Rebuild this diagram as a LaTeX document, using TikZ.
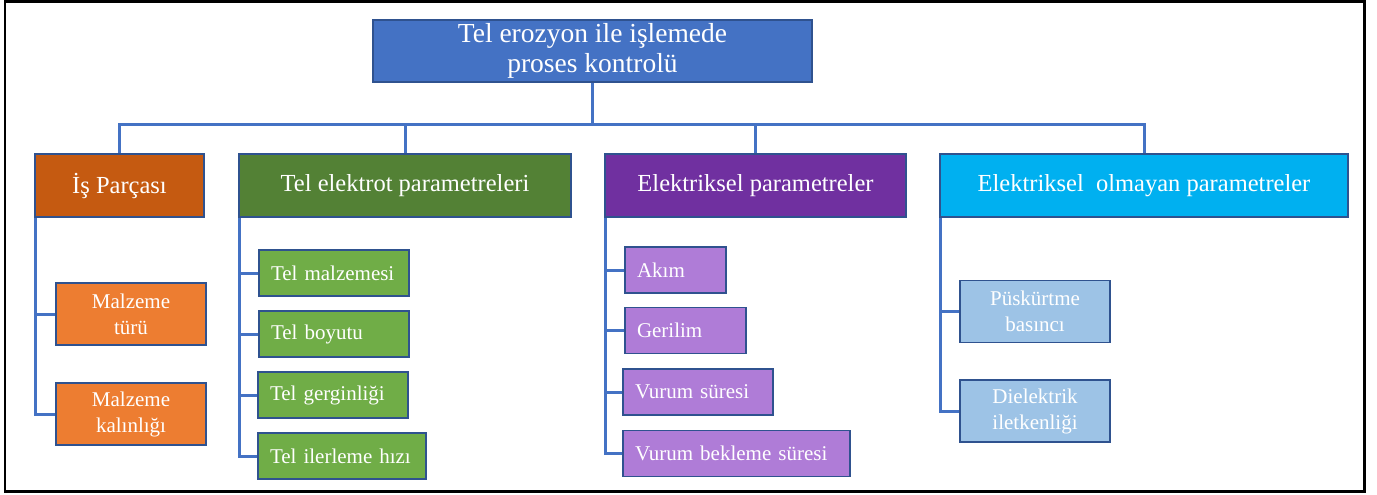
\documentclass[tikz,border=0pt]{standalone}
\usepackage{fontspec}
\setmainfont{Liberation Serif}
\usepackage{tikz}
\usetikzlibrary{backgrounds}

\definecolor{linkblue}{HTML}{4472C4}
\definecolor{rimblue}{HTML}{2F528F}
\definecolor{rust}{HTML}{C55A11}
\definecolor{darkgreen}{HTML}{538135}
\definecolor{mor}{HTML}{7030A0}
\definecolor{skyblue}{HTML}{00B0F0}
\definecolor{orangeleaf}{HTML}{ED7D31}
\definecolor{greenleaf}{HTML}{70AD47}
\definecolor{lilac}{HTML}{AF7CD7}
\definecolor{paleblue}{HTML}{9DC3E6}

\tikzset{
	rootbox/.style={minimum width=439pt,minimum height=62pt,font=\fontsize{27.5}{30}\selectfont},
	groupbox/.style={minimum height=63pt,font=\fontsize{24.5}{28}\selectfont},
	leafbox/.style={minimum width=150pt,minimum height=62pt,font=\fontsize{21}{26}\selectfont},
	listbox/.style={minimum height=46pt,inner xsep=12pt,align=left,font=\fontsize{21}{26}\selectfont}
}

\begin{document}
\begin{tikzpicture}[x=1pt,y=-1pt]
		\useasboundingbox (0,0) rectangle (1377,495);
		\draw[line width=2.7pt] (5,1.5) rectangle (1364.5,491.5);

		\begin{scope}[every node/.style={rectangle,draw=rimblue,line width=1.2pt,text=white,inner sep=0pt,align=center}]
			\node[rootbox,fill=linkblue] (root) at (592.5,51) {Tel erozyon ile işlemede\\proses kontrolü};

			\node[groupbox,fill=rust,minimum width=169pt] (is) at (119.5,185.5) {İş Parçası};
			\node[groupbox,fill=darkgreen,minimum width=332pt] (tel) at (405,185.5) {Tel elektrot parametreleri};
			\node[groupbox,fill=mor,minimum width=301pt] (elk) at (755.5,185.5) {Elektriksel parametreler};
			\node[groupbox,fill=skyblue,minimum width=408pt] (nonelk) at (1144,185.5) {Elektriksel~ olmayan parametreler};

			\node[leafbox,fill=orangeleaf] (is1) at (131,314) {Malzeme\\türü};
			\node[leafbox,fill=orangeleaf] (is2) at (131,414) {Malzeme\\kalınlığı};

			\node[listbox,fill=greenleaf,text width=126pt] (tel1) at (334,273) {Tel malzemesi};
			\node[listbox,fill=greenleaf,text width=126pt] (tel2) at (334,334) {Tel boyutu};
			\node[listbox,fill=greenleaf,text width=126pt] (tel3) at (333,395) {Tel gerginliği};
			\node[listbox,fill=greenleaf,text width=144pt] (tel4) at (342,456) {Tel ilerleme hızı};

			\node[listbox,fill=lilac,text width=77pt] (elk1) at (675.5,270) {Akım};
			\node[listbox,fill=lilac,text width=97pt] (elk2) at (685.5,330.5) {Gerilim};
			\node[listbox,fill=lilac,text width=126pt] (elk3) at (698,392) {Vurum süresi};
			\node[listbox,fill=lilac,text width=203pt] (elk4) at (736.5,453.5) {Vurum bekleme süresi};

			\node[leafbox,fill=paleblue] (non1) at (1035,311.5) {Püskürtme\\basıncı};
			\node[leafbox,fill=paleblue] (non2) at (1035,411) {Dielektrik\\iletkenliği};
		\end{scope}

		\begin{scope}[on background layer={color=linkblue,line width=3pt}]
			\coordinate (bus) at (592.5,124);
			\draw (root.south) -- (root.south |- bus);
			\draw (is.north) -- (is.north |- bus) -- (nonelk.north |- bus) -- (nonelk.north);
			\draw (tel.north) -- (tel.north |- bus);
			\draw (elk.north) -- (elk.north |- bus);

			\foreach \kid in {is1,is2}
				\draw ([xshift=1.5pt]is.south west) |- (\kid.west);
			\foreach \kid in {tel1,tel2,tel3,tel4}
				\draw ([xshift=1.5pt]tel.south west) |- (\kid.west);
			\foreach \kid in {elk1,elk2,elk3,elk4}
				\draw ([xshift=1.5pt]elk.south west) |- (\kid.west);
			\foreach \kid in {non1,non2}
				\draw ([xshift=1.5pt]nonelk.south west) |- (\kid.west);
		\end{scope}
\end{tikzpicture}
\end{document}
